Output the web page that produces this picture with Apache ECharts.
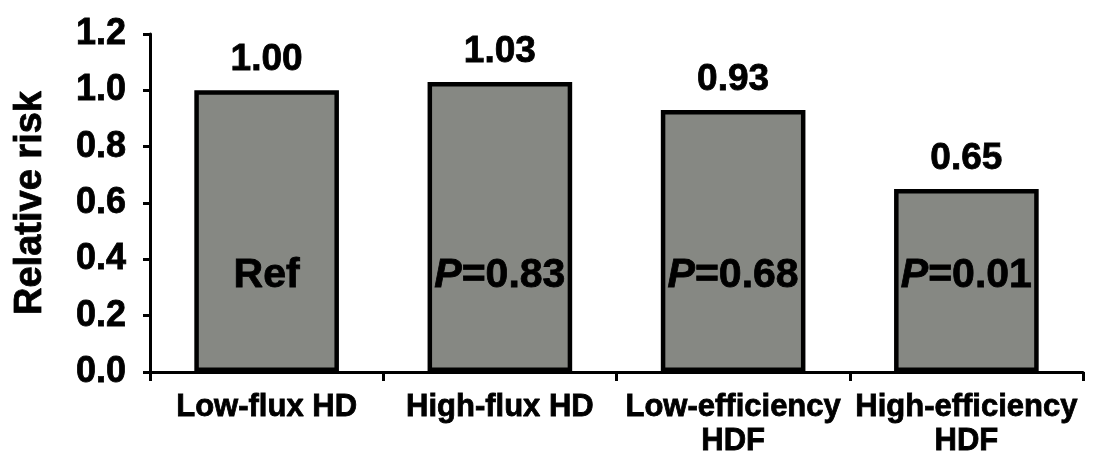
<!DOCTYPE html>
<html>
<head>
<meta charset="utf-8">
<script src="https://cdn.jsdelivr.net/npm/echarts@6/dist/echarts.min.js"></script>
<style>
  html, body { margin: 0; padding: 0; background: #ffffff; }
  #chart { width: 1105px; height: 467px; }
</style>
</head>
<body>
<div id="chart"></div>
<script>
// Dialysis modality groups
const categories = ['Low-flux HD', 'High-flux HD', 'Low-efficiency\nHDF', 'High-efficiency\nHDF'];
// Relative risk for each group
const relativeRisk = [1.00, 1.03, 0.93, 0.65];
// P-value annotation inside each bar (null means reference group)
const pValues = [null, '0.83', '0.68', '0.01'];
const refLabel = 'Ref';
// Y axis ticks
const yTicks = [0.0, 0.2, 0.4, 0.6, 0.8, 1.0, 1.2];

const FONT = '"Liberation Sans", Arial, Helvetica, sans-serif';
// heavy black text used throughout
const heavy = { color: '#000', fontFamily: FONT, fontWeight: 'bold', textBorderColor: '#000', textBorderWidth: 0.8 };
const chart = echarts.init(document.getElementById('chart'));

chart.setOption({
  backgroundColor: '#ffffff',
  animation: false,
  grid: { left: 150, right: 22, top: 34, bottom: 95 },
  xAxis: {
    type: 'category',
    data: categories,
    axisLine: { lineStyle: { color: '#000', width: 3 } },
    axisTick: { show: true, length: 9, lineStyle: { color: '#000', width: 3 } },
    axisLabel: Object.assign({}, heavy, { fontSize: 31, lineHeight: 34, margin: 18, interval: 0 })
  },
  yAxis: {
    type: 'value',
    min: yTicks[0],
    max: yTicks[yTicks.length - 1],
    interval: 0.2,
    name: 'Relative risk',
    nameLocation: 'middle',
    nameGap: 100,
    nameRotate: 90,
    nameTextStyle: Object.assign({}, heavy, { fontSize: 38 }),
    axisLine: { show: true, lineStyle: { color: '#000', width: 3 } },
    axisTick: { show: true, length: 7, lineStyle: { color: '#000', width: 3 } },
    splitLine: { show: false },
    axisLabel: Object.assign({}, heavy, { fontSize: 36, margin: 24, formatter: v => v.toFixed(1) })
  },
  series: [
    {
      type: 'bar',
      data: relativeRisk,
      barWidth: '62%',
      itemStyle: { color: '#868883', borderColor: '#000', borderWidth: 4.5 },
      label: Object.assign({}, heavy, {
        show: true,
        position: 'top',
        distance: 12,
        fontSize: 37,
        formatter: p => p.value.toFixed(2)
      })
    },
    {
      // P-value annotations drawn over the same bars
      type: 'bar',
      data: relativeRisk,
      barWidth: '62%',
      barGap: '-100%',
      silent: true,
      itemStyle: { color: 'transparent', borderWidth: 0 },
      label: Object.assign({}, heavy, {
        show: true,
        position: 'insideBottom',
        distance: 77,
        lineHeight: 38,
        fontSize: 41,
        formatter: p => pValues[p.dataIndex] === null ? refLabel : '{i|P}=' + pValues[p.dataIndex],
        rich: {
          i: Object.assign({}, heavy, { fontStyle: 'italic', fontSize: 41 })
        }
      })
    }
  ]
});
</script>
</body>
</html>
